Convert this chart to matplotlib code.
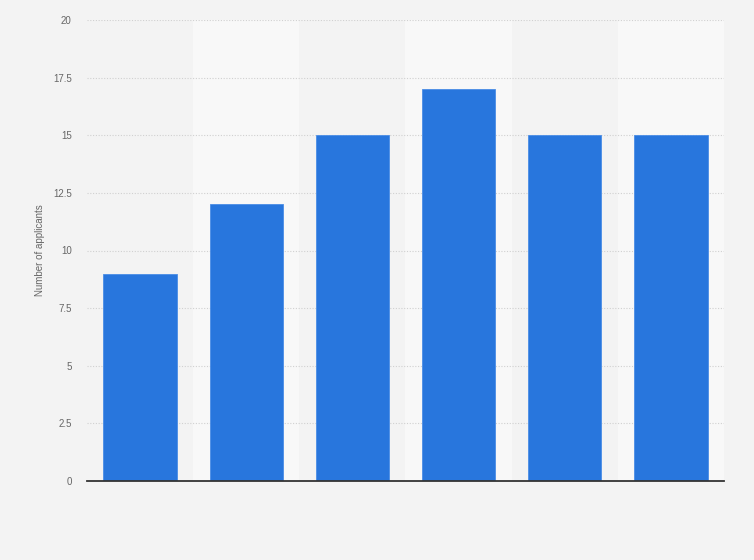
import matplotlib
matplotlib.use("Agg")
import matplotlib.pyplot as plt

plt.rcParams["font.family"] = ["Liberation Sans", "DejaVu Sans"]

categories = ["1", "2", "3", "4", "5", "6"]
values = [9, 12, 15, 17, 15, 15]
yticks = [0, 2.5, 5, 7.5, 10, 12.5, 15, 17.5, 20]
ytick_labels = ["0", "2.5", "5", "7.5", "10", "12.5", "15", "17.5", "20"]

fig = plt.figure(figsize=(7.54, 5.6), dpi=100, facecolor="#f3f3f3")
ax = fig.add_axes([87/754, 1-481/560, (724-87)/754, (481-20)/560])
ax.set_facecolor("#f3f3f3")

x = list(range(len(categories)))
for i in x:
    if i % 2 == 1:
        ax.axvspan(i-0.5, i+0.5, color="#f8f8f8", zorder=0, lw=0)

ax.set_ylim(0, 20)
ax.set_xlim(-0.5, len(categories)-0.5)
ax.set_yticks(yticks)
ax.set_yticklabels(ytick_labels)
for t in yticks[1:]:
    ax.axhline(t, color="#d0d0d0", lw=0.8, ls=(0, (1, 1.5)), zorder=1)

ax.bar(x, values, width=0.69, color="#2876dd", edgecolor="#4a8de6", linewidth=0.6, zorder=2)

ax.set_xticks(x)
ax.set_xticklabels(["" for _ in categories])
ax.tick_params(axis="x", length=0)
ax.tick_params(axis="y", length=0, labelsize=7, labelcolor="#666666", pad=11)
for s in ["top", "right", "left"]:
    ax.spines[s].set_visible(False)
ax.spines["bottom"].set_color("#333333")
ax.spines["bottom"].set_linewidth(1.3)
ax.spines["bottom"].set_zorder(3)

ax.set_ylabel("Number of applicants", fontsize=7, color="#666666")
ax.yaxis.set_label_coords((45-87)/637, 0.5)

fig.savefig("out.png", dpi=100, facecolor=fig.get_facecolor())
